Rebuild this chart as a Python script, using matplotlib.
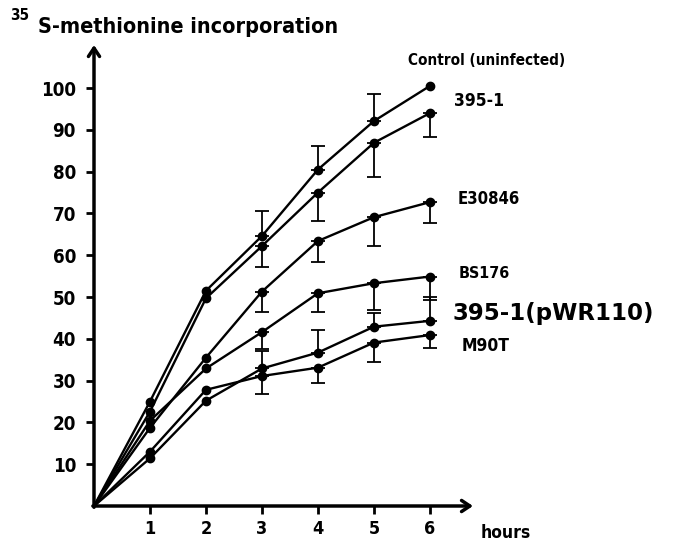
import matplotlib
matplotlib.use("Agg")
import matplotlib.pyplot as plt
import numpy as np

hours = [0, 1, 2, 3, 4, 5, 6]

# values (0 h = origin)
control = [0, 25.0, 51.5, 64.6, 80.5, 92.1, 100.5]
s395 = [0, 22.6, 49.7, 62.2, 75.0, 86.9, 94.0]
e30846 = [0, 18.7, 35.5, 51.3, 63.4, 69.1, 72.7]
bs176 = [0, 20.4, 32.9, 41.6, 50.9, 53.3, 54.9]
pwr110 = [0, 11.4, 25.2, 32.9, 36.7, 42.9, 44.3]
m90t = [0, 13.0, 27.8, 31.1, 33.1, 39.1, 40.9]

# one-sided error bars (lower, upper)
control_err = ([0, 0, 0, 0, 0, 0, 0], [0, 0, 0, 6.0, 5.7, 6.4, 0])
s395_err = ([0, 0, 0, 4.9, 6.7, 8.3, 5.8], [0] * 7)
e30846_err = ([0, 0, 0, 4.8, 5.0, 6.8, 4.9], [0] * 7)
bs176_err = ([0, 0, 0, 4.0, 4.6, 6.3, 5.5], [0] * 7)
pwr110_err = ([0] * 7, [0, 0, 0, 4.3, 5.4, 3.2, 5.8])
m90t_err = ([0, 0, 0, 4.3, 3.6, 4.6, 3.0], [0] * 7)

series = [
    (control, control_err),
    (s395, s395_err),
    (e30846, e30846_err),
    (bs176, bs176_err),
    (pwr110, pwr110_err),
    (m90t, m90t_err),
]

labels = ["Control (uninfected)", "395-1", "E30846", "BS176", "395-1(pWR110)", "M90T"]
label_pos = [(5.6, 106.5), (6.43, 96.8), (6.5, 73.4), (6.52, 55.7), (6.4, 46.0), (6.56, 38.4)]
label_size = [11, 12.5, 12, 11.5, 16.5, 12.5]

yticks = [10, 20, 30, 40, 50, 60, 70, 80, 90, 100]
xticks = [1, 2, 3, 4, 5, 6]

font = dict(family="DejaVu Sans", fontweight="bold", fontstretch="condensed")

fig = plt.figure(figsize=(6.81, 5.42), dpi=100)
ax = fig.add_axes([94 / 681, 36 / 542, 379 / 681, 461 / 542])
ax.set_xlim(0, 6.77)
ax.set_ylim(0, 110.3)

for vals, (lo, hi) in series:
    ax.plot(hours, vals, color="black", lw=1.7, marker="o", ms=6,
            markevery=slice(1, None), clip_on=False, zorder=3)
    # error bars only where there is one
    idx = [i for i in range(len(hours)) if lo[i] > 0 or hi[i] > 0]
    ax.errorbar([hours[i] for i in idx], [vals[i] for i in idx],
                yerr=[[lo[i] for i in idx], [hi[i] for i in idx]],
                fmt="none", ecolor="black", capsize=5, capthick=1.3,
                elinewidth=1.3, zorder=2)

for i, lab in enumerate(labels):
    x, y = label_pos[i]
    if lab == "395-1(pWR110)":
        ax.text(x, y, lab, fontsize=label_size[i], ha="left", va="center",
                family="DejaVu Sans", fontweight="bold")
    else:
        ax.text(x, y, lab, fontsize=label_size[i], ha="left", va="center", **font)

for sp in ["top", "right", "left", "bottom"]:
    ax.spines[sp].set_visible(False)

# axes with arrow heads
arrow = dict(arrowstyle="->,head_length=0.6,head_width=0.4", lw=2.5, color="black",
             shrinkA=0, shrinkB=0)
ax.annotate("", xy=(6.77, 0), xytext=(-0.02, 0), xycoords="data",
            arrowprops=arrow, annotation_clip=False)
ax.annotate("", xy=(0, 110.3), xytext=(0, -0.3), xycoords="data",
            arrowprops=arrow, annotation_clip=False)

ax.set_xticks(xticks)
ax.set_xticklabels([str(t) for t in xticks], fontsize=13, **font)
ax.set_yticks(yticks)
ax.set_yticklabels([str(t) for t in yticks], fontsize=13.5, **font)
ax.tick_params(axis="both", direction="out", width=2, length=6, pad=7)
ax.tick_params(axis="x", pad=4)

fig.text(481 / 681, 1 - 533 / 542, "hours", fontsize=12.5, ha="left", va="center", **font)
fig.text(10 / 681, 1 - 15 / 542, "35", fontsize=11, ha="left", va="center", **font)
fig.text(38 / 681, 1 - 27 / 542, "S-methionine incorporation", fontsize=15.5,
         ha="left", va="center", **font)

fig.savefig("out.png", dpi=100)
